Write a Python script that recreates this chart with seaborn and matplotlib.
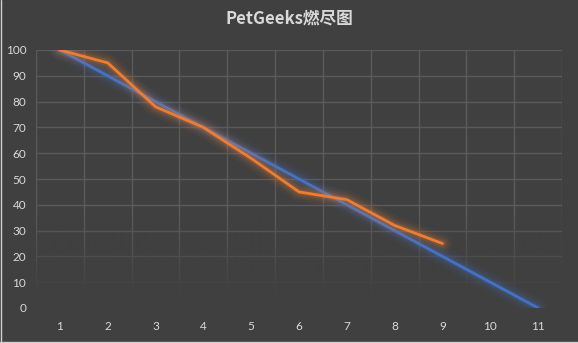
import numpy as np
import pandas as pd
import matplotlib
matplotlib.use("Agg")
import matplotlib.pyplot as plt
import matplotlib.patheffects as pe
import seaborn as sns

# Sprint days and remaining work
days = [1, 2, 3, 4, 5, 6, 7, 8, 9, 10, 11]
ideal = [100, 90, 80, 70, 60, 50, 40, 30, 20, 10, 0]
actual_days = [1, 2, 3, 4, 5, 6, 7, 8, 9]
actual = [100, 95, 78, 70, 58, 45, 42, 32, 25]
y_ticks = [0, 10, 20, 30, 40, 50, 60, 70, 80, 90, 100]
title = "PetGeeks燃尽图"

BG = "#404040"
GRID = "#5a5a5a"
TEXT = "#d9d9d9"
BLUE = "#4472C4"
ORANGE = "#ED7D31"

sns.set_theme(style="dark")
plt.rcParams["font.family"] = ["Lato", "DejaVu Sans"]

fig = plt.figure(figsize=(5.78, 3.43), dpi=100, facecolor=BG)
ax = fig.add_axes([36 / 578, 1 - 308 / 343, 526 / 578, 258 / 343])
ax.set_facecolor(BG)

df_ideal = pd.DataFrame({"day": days, "remaining": ideal})
df_actual = pd.DataFrame({"day": actual_days, "remaining": actual})


def glow(color):
    return [
        pe.Stroke(linewidth=14, foreground=color, alpha=0.05),
        pe.Stroke(linewidth=10, foreground=color, alpha=0.07),
        pe.Stroke(linewidth=7, foreground=color, alpha=0.1),
        pe.Stroke(linewidth=4.5, foreground=color, alpha=0.16),
        pe.Normal(),
    ]


sns.lineplot(data=df_ideal, x="day", y="remaining", ax=ax, color=BLUE,
             linewidth=2.0, zorder=3, path_effects=glow(BLUE))
sns.lineplot(data=df_actual, x="day", y="remaining", ax=ax, color=ORANGE,
             linewidth=2.0, zorder=4, path_effects=glow(ORANGE))

ax.set_xlim(0.5, 11.5)
ax.set_ylim(0, 100)
ax.set_xticks(days)
ax.set_xticks(np.arange(0.5, 12, 1), minor=True)
ax.set_yticks(y_ticks)
ax.grid(False)
ax.grid(which="minor", axis="x", color=GRID, linewidth=1)
ax.grid(which="major", axis="y", color=GRID, linewidth=1)
ax.set_axisbelow(True)
ax.tick_params(which="both", length=0)
ax.tick_params(axis="x", colors=TEXT, labelsize=8.5, pad=9)
ax.tick_params(axis="y", colors=TEXT, labelsize=8.5, pad=7)
ax.set_xlabel("")
ax.set_ylabel("")
for s in ax.spines.values():
    s.set_visible(False)

# Plot-area fill fades the gridlines out towards the baseline
ramp = np.clip((35 - np.linspace(100, 0, 256)) / 31, 0, 1)
rgba = np.zeros((256, 1, 4))
rgba[..., :3] = matplotlib.colors.to_rgb(BG)
rgba[:, 0, 3] = ramp
ax.imshow(rgba, extent=[0.5, 11.5, 0, 100], aspect="auto", zorder=1,
          interpolation="bilinear")

fig.text(0.5, 1 - 19 / 343, title, ha="center", va="center", color=TEXT,
         fontsize=12, fontweight="bold",
         family=["Noto Sans CJK SC", "DejaVu Sans"])

# Chart border on the left and bottom edges
fig.add_artist(plt.Line2D([0.5 / 578, 0.5 / 578], [0, 1], color="#cfcfcf",
                          linewidth=1, transform=fig.transFigure))
fig.add_artist(plt.Line2D([0, 1], [1.5 / 343, 1.5 / 343], color="#cfcfcf",
                          linewidth=1, transform=fig.transFigure))

fig.savefig("out.png", dpi=100, facecolor=BG)
